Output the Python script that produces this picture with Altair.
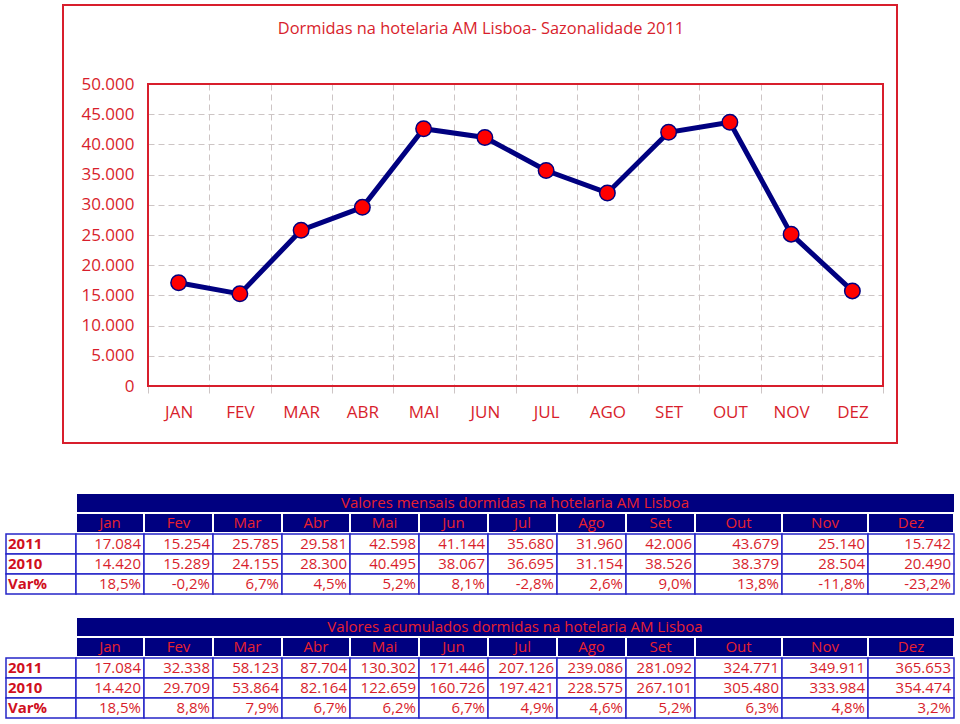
import altair as alt
import pandas as pd

# ---------------- data ----------------
MONTHS_AXIS = ["JAN", "FEV", "MAR", "ABR", "MAI", "JUN", "JUL", "AGO", "SET", "OUT", "NOV", "DEZ"]
MONTHS_TBL = ["Jan", "Fev", "Mar", "Abr", "Mai", "Jun", "Jul", "Ago", "Set", "Out", "Nov", "Dez"]
ROW_LABELS = ["2011", "2010", "Var%"]

V2011 = [17084, 15254, 25785, 29581, 42598, 41144, 35680, 31960, 42006, 43679, 25140, 15742]
V2010 = [14420, 15289, 24155, 28300, 40495, 38067, 36695, 31154, 38526, 38379, 28504, 20490]
VAR_M = ["18,5%", "-0,2%", "6,7%", "4,5%", "5,2%", "8,1%", "-2,8%", "2,6%", "9,0%", "13,8%", "-11,8%", "-23,2%"]

CUM2011 = [17084, 32338, 58123, 87704, 130302, 171446, 207126, 239086, 281092, 324771, 349911, 365653]
CUM2010 = [14420, 29709, 53864, 82164, 122659, 160726, 197421, 228575, 267101, 305480, 333984, 354474]
VAR_C = ["18,5%", "8,8%", "7,9%", "6,7%", "6,2%", "6,7%", "4,9%", "4,6%", "5,2%", "6,3%", "4,8%", "3,2%"]

Y_TICKS = [0, 5000, 10000, 15000, 20000, 25000, 30000, 35000, 40000, 45000, 50000]

TITLE = "Dormidas na hotelaria AM Lisboa- Sazonalidade 2011"
TABLE_TITLES = ["Valores mensais dormidas na hotelaria AM Lisboa",
                "Valores acumulados dormidas na hotelaria AM Lisboa"]

# ---------------- style / layout ----------------
RED = "#d81e2c"
NAVY = "#000080"
BLUE = "#2626c8"
GRID = "#cdc5c5"
FONT = "Open Sans"

PAGE_W, PAGE_H = 960, 724
PLOT_L, PLOT_T, PLOT_W, PLOT_H = 148, 84, 735, 302
FRAME = (63, 5, 897, 443)
COL_EDGES = [6, 76, 144, 213, 282, 350, 419, 488, 557, 626, 695, 782, 868, 954]
TABLE_TOPS = [494, 618]
ROW_H = 20


def fmt(v):
    return f"{v:,}".replace(",", ".")


# ---------------- line chart ----------------
line_df = pd.DataFrame({"mes": MONTHS_AXIS, "dormidas": V2011})

x_enc = alt.X(
    "mes:O", sort=MONTHS_AXIS, bandPosition=0.5, title=None,
    scale=alt.Scale(type="band", paddingInner=0, paddingOuter=0),
    axis=alt.Axis(labelAngle=0, labelFont=FONT, labelFontSize=17, labelColor=RED,
                  labelPadding=11, tickBand="extent", ticks=True, tickColor=GRID,
                  tickSize=7, domain=False, grid=True, gridColor=GRID,
                  gridDash=[6, 4], gridWidth=1),
)
y_enc = alt.Y(
    "dormidas:Q", title=None,
    scale=alt.Scale(domain=[0, 50000], nice=False, zero=True),
    axis=alt.Axis(values=Y_TICKS, labelExpr="replace(format(datum.value, ','), ',', '.')",
                  labelFont=FONT, labelFontSize=17, labelColor=RED, labelPadding=14,
                  ticks=False, domain=False, grid=True, gridColor=GRID,
                  gridDash=[6, 4], gridWidth=1),
)

base = alt.Chart(line_df).encode(x=x_enc, y=y_enc)
line = base.mark_line(color=NAVY, strokeWidth=5)
pts = base.mark_point(filled=True, fill="#ff0000", stroke=NAVY, strokeWidth=1.5,
                      size=240, opacity=1)

frame = alt.Chart(pd.DataFrame({"k": [0]})).mark_rect(
    fillOpacity=0, stroke=RED, strokeWidth=2
).encode(
    x=alt.value(FRAME[0] - PLOT_L), x2=alt.value(FRAME[2] - PLOT_L),
    y=alt.value(FRAME[1] - PLOT_T), y2=alt.value(FRAME[3] - PLOT_T),
)
plot_border = alt.Chart(pd.DataFrame({"k": [0]})).mark_rect(
    fillOpacity=0, stroke=RED, strokeWidth=2
).encode(
    x=alt.value(0), x2=alt.value(PLOT_W), y=alt.value(0), y2=alt.value(PLOT_H),
)
title_txt = alt.Chart(pd.DataFrame({"t": [TITLE]})).mark_text(
    font=FONT, fontSize=16.4, color=RED, align="center", baseline="middle"
).encode(text="t:N", x=alt.value(481 - PLOT_L), y=alt.value(29 - PLOT_T))

line_part = alt.layer(frame, plot_border, line, pts, title_txt)

# ---------------- tables ----------------
nav_rows, cell_rows, ctr_rows, lab_rows, val_rows = [], [], [], [], []
tables = [
    (TABLE_TITLES[0], [[fmt(v) for v in V2011], [fmt(v) for v in V2010], VAR_M]),
    (TABLE_TITLES[1], [[fmt(v) for v in CUM2011], [fmt(v) for v in CUM2010], VAR_C]),
]
for (ttl, rows), top in zip(tables, TABLE_TOPS):
    nav_rows.append(dict(x=COL_EDGES[1] + 1, x2=COL_EDGES[-1], y=top, y2=top + ROW_H - 2))
    ctr_rows.append(dict(x=(COL_EDGES[1] + COL_EDGES[-1]) / 2, y=top + ROW_H / 2 - 1, t=ttl))
    for i, m in enumerate(MONTHS_TBL):
        x0, x1 = COL_EDGES[i + 1], COL_EDGES[i + 2]
        nav_rows.append(dict(x=x0 + 1, x2=x1 - 1, y=top + ROW_H, y2=top + 2 * ROW_H - 2))
        ctr_rows.append(dict(x=(x0 + x1) / 2, y=top + 1.5 * ROW_H - 1, t=m))
    for r, (lab, vals) in enumerate(zip(ROW_LABELS, rows)):
        y0 = top + (2 + r) * ROW_H
        for c in range(13):
            cell_rows.append(dict(x=COL_EDGES[c], x2=COL_EDGES[c + 1], y=y0, y2=y0 + ROW_H))
        lab_rows.append(dict(x=COL_EDGES[0] + 2, y=y0 + ROW_H / 2, t=lab))
        for c, v in enumerate(vals):
            val_rows.append(dict(x=COL_EDGES[c + 2] - 3, y=y0 + ROW_H / 2, t=v))

xs = alt.Scale(domain=[0, PAGE_W], range=[-PLOT_L, PAGE_W - PLOT_L], nice=False, zero=False)
ys = alt.Scale(domain=[0, PAGE_H], range=[-PLOT_T, PAGE_H - PLOT_T], nice=False, zero=False)


def rect_layer(rows, **kw):
    return alt.Chart(pd.DataFrame(rows)).mark_rect(**kw).encode(
        x=alt.X("x:Q", scale=xs, axis=None), x2="x2:Q",
        y=alt.Y("y:Q", scale=ys, axis=None), y2="y2:Q",
    )


def text_layer(rows, **kw):
    return alt.Chart(pd.DataFrame(rows)).mark_text(font=FONT, baseline="middle", **kw).encode(
        x=alt.X("x:Q", scale=xs, axis=None),
        y=alt.Y("y:Q", scale=ys, axis=None),
        text="t:N",
    )


table_part = alt.layer(
    rect_layer(nav_rows, fill=NAVY),
    rect_layer(cell_rows, fill="white", stroke=BLUE, strokeWidth=1.5),
    text_layer(ctr_rows, align="center", fontSize=15, color="#e8202e"),
    text_layer(lab_rows, align="left", fontSize=15, fontWeight="bold", color="#d0101e"),
    text_layer(val_rows, align="right", fontSize=15, color=RED),
)

chart = alt.layer(line_part, table_part).resolve_scale(
    x="independent", y="independent"
).properties(
    width=PLOT_W, height=PLOT_H,
    padding={"left": PLOT_L, "top": PLOT_T, "right": PAGE_W - PLOT_L - PLOT_W,
             "bottom": PAGE_H - PLOT_T - PLOT_H},
    autosize=alt.AutoSizeParams(type="none"),
    background="white",
).configure_view(stroke=RED, strokeWidth=2)

chart.save("out.html", embed_options={"renderer": "svg", "actions": False})
